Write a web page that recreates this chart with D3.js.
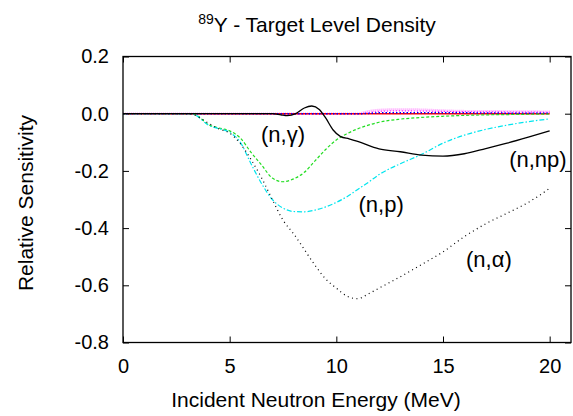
<!DOCTYPE html>
<html>
<head>
<meta charset="utf-8">
<script src="https://cdn.jsdelivr.net/npm/d3@7"></script>
<style>
  body { margin: 0; background: #fff; }
  text { font-family: "Liberation Sans", Arial, sans-serif; fill: #000; }
</style>
</head>
<body>
<div id="chart"></div>
<script>
// energies (MeV) shared by the big reaction curves
const energy = [0, 1, 2, 3, 3.25, 3.5, 4, 4.5, 5, 5.5, 6, 6.5, 7, 7.5, 8, 8.5, 9, 9.5, 10, 10.5, 11, 11.5, 12, 13, 14, 15, 16, 17, 18, 19, 20];
const nGamma = [0, 0, 0, 0, 0, -0.008, -0.038, -0.05, -0.06, -0.085, -0.135, -0.18, -0.225, -0.238, -0.228, -0.205, -0.165, -0.125, -0.092, -0.07, -0.053, -0.04, -0.03, -0.019, -0.013, -0.009, -0.006, -0.004, -0.003, -0.002, -0.001];
const nP = [0, 0, 0, 0, 0, -0.01, -0.04, -0.052, -0.065, -0.1, -0.175, -0.245, -0.3, -0.33, -0.342, -0.343, -0.337, -0.326, -0.31, -0.29, -0.265, -0.24, -0.213, -0.175, -0.142, -0.103, -0.075, -0.055, -0.04, -0.028, -0.018];
const nAlpha = [0, 0, 0, 0, -0.002, -0.01, -0.033, -0.053, -0.068, -0.105, -0.16, -0.225, -0.3, -0.372, -0.42, -0.475, -0.53, -0.578, -0.61, -0.638, -0.647, -0.63, -0.61, -0.57, -0.527, -0.483, -0.43, -0.385, -0.348, -0.31, -0.261];

// (n,np) has its own grid because of the wiggle near 8-9 MeV
const energyNp = [0, 7, 7.4, 7.7, 8.1, 8.5, 8.85, 9.2, 9.5, 9.85, 10.2, 10.6, 11, 12, 13, 14, 15, 16, 17, 18, 19, 20];
const nNp = [0, 0, -0.004, -0.007, 0, 0.02, 0.027, 0.015, -0.015, -0.057, -0.08, -0.088, -0.097, -0.123, -0.133, -0.145, -0.148, -0.14, -0.122, -0.103, -0.082, -0.06];

// the small channels that stay near zero
const energySmall = [0, 11, 11.5, 12, 13, 14, 15, 16, 18, 20];
const nNn = [0, 0, 0, 0, 0, 0, 0, 0, 0, 0];
const n2n = [0, 0, 0.001, 0.003, 0.003, 0.003, 0.003, 0.003, 0.002, 0.002];
const nNa = [0, 0, 0.003, 0.008, 0.01, 0.009, 0.008, 0.007, 0.006, 0.005];
const nNd = [0, 0, 0.008, 0.013, 0.015, 0.014, 0.011, 0.009, 0.008, 0.007];

const xTicks = [0, 5, 10, 15, 20];
const yTicks = [-0.8, -0.6, -0.4, -0.2, 0.0, 0.2];

const series = [
  { x: energySmall, y: nNd, color: "#ff99ff", width: 2.5, dash: "1,1" },
  { x: energySmall, y: nNa, color: "#ff00ff", width: 1.2, dash: "1,2" },
  { x: energySmall, y: nNn, color: "#ff0000", width: 1.5, dash: null },
  { x: energySmall, y: n2n, color: "#0000ff", width: 1.5, dash: "1.5,2" },
  { x: energy, y: nGamma, color: "#22dd22", width: 1.2, dash: "3,2" },
  { x: energy, y: nP, color: "#00e5ee", width: 1.2, dash: "5,2,1.5,2" },
  { x: energy, y: nAlpha, color: "#000000", width: 1.2, dash: "1,3.5" },
  { x: energyNp, y: nNp, color: "#000000", width: 1.3, dash: null }
];

const labels = [
  { text: "(n,\u03b3)", e: 7.5, v: -0.1 },
  { text: "(n,p)", e: 12.1, v: -0.345 },
  { text: "(n,\u03b1)", e: 17.15, v: -0.535 },
  { text: "(n,np)", e: 19.45, v: -0.185 }
];

const width = 573, height = 416;
const margin = { top: 56.5, right: 2, bottom: 73.5, left: 123 };

const svg = d3.select("#chart").append("svg")
  .attr("width", width)
  .attr("height", height);

const x = d3.scaleLinear().domain([0, 21]).range([margin.left, width - margin.right]);
const y = d3.scaleLinear().domain([-0.8, 0.2]).range([height - margin.bottom, margin.top]);

const fmt = d => d.toFixed(1);

// axes with inward ticks, mirrored on top/right
svg.append("g")
  .attr("transform", `translate(0,${y(-0.8)})`)
  .call(d3.axisBottom(x).tickValues(xTicks).tickSize(-6).tickPadding(16).tickFormat(d3.format("d")))
  .call(g => g.select(".domain").remove())
  .call(g => g.selectAll("text").style("font-size", "20px"));

svg.append("g")
  .attr("transform", `translate(0,${y(0.2)})`)
  .call(d3.axisTop(x).tickValues(xTicks).tickSize(-6).tickFormat(""))
  .call(g => g.select(".domain").remove());

svg.append("g")
  .attr("transform", `translate(${x(0)},0)`)
  .call(d3.axisLeft(y).tickValues(yTicks).tickSize(-6).tickPadding(14).tickFormat(fmt))
  .call(g => g.select(".domain").remove())
  .call(g => g.selectAll("text").style("font-size", "20px"));

svg.append("g")
  .attr("transform", `translate(${x(21)},0)`)
  .call(d3.axisRight(y).tickValues(yTicks).tickSize(-6).tickFormat(""))
  .call(g => g.select(".domain").remove());

svg.selectAll(".tick line").attr("stroke", "#000");

// curves
const line = d3.line()
  .x(d => x(d[0]))
  .y(d => y(d[1]))
  .curve(d3.curveMonotoneX);

svg.append("g")
  .selectAll("path")
  .data(series)
  .join("path")
  .attr("d", s => line(s.x.map((e, i) => [e, s.y[i]])))
  .attr("fill", "none")
  .attr("stroke", s => s.color)
  .attr("stroke-width", s => s.width)
  .attr("stroke-dasharray", s => s.dash);

// frame
svg.append("rect")
  .attr("x", x(0))
  .attr("y", y(0.2))
  .attr("width", x(21) - x(0))
  .attr("height", y(-0.8) - y(0.2))
  .attr("fill", "none")
  .attr("stroke", "#000")
  .attr("stroke-width", 1.3);

// reaction labels
svg.append("g")
  .selectAll("text")
  .data(labels)
  .join("text")
  .attr("x", d => x(d.e))
  .attr("y", d => y(d.v))
  .attr("text-anchor", "middle")
  .style("font-size", "22px")
  .text(d => d.text);

// title with superscript mass number
const title = svg.append("text")
  .attr("x", 317)
  .attr("y", 32)
  .attr("text-anchor", "middle")
  .style("font-size", "21px");
title.append("tspan").attr("dy", -8).style("font-size", "14px").text("89");
title.append("tspan").attr("dy", 8).text("Y - Target Level Density");

// axis titles
svg.append("text")
  .attr("x", 316)
  .attr("y", 407)
  .attr("text-anchor", "middle")
  .style("font-size", "21px")
  .text("Incident Neutron Energy (MeV)");

svg.append("text")
  .attr("transform", `translate(33,${203}) rotate(-90)`)
  .attr("text-anchor", "middle")
  .style("font-size", "21px")
  .text("Relative Sensitivity");
</script>
</body>
</html>
